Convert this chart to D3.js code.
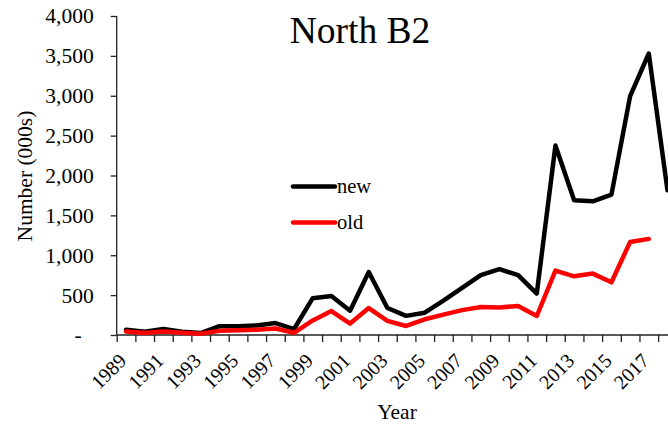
<!DOCTYPE html>
<html>
<head>
<meta charset="utf-8">
<script src="https://cdn.jsdelivr.net/npm/d3@7"></script>
<style>
  body { margin: 0; background: #fff; }
  svg { display: block; font-family: "Liberation Serif", "Times New Roman", serif; }
  .axis path, .axis line { stroke: #222; stroke-width: 1.3; }
  .axis text { font-size: 21.5px; fill: #000; font-family: "Liberation Serif", serif; }
  .line { fill: none; stroke-width: 4.5; stroke-linejoin: round; stroke-linecap: round; }
</style>
</head>
<body>
<svg width="668" height="425"></svg>
<script>
const years = d3.range(1989, 2019);
const newValues = [65, 40, 75, 40, 25, 110, 110, 120, 150, 75,
                   462, 490, 305, 790, 338, 240, 280, 432, 592, 752,
                   825, 750, 520, 2375, 1690, 1676, 1760, 2995, 3530, 1815];
const oldValues = [45, 25, 45, 28, 15, 52, 60, 65, 82, 28,
                   182, 300, 143, 338, 178, 113, 197, 256, 312, 352,
                   345, 364, 238, 808, 736, 770, 661, 1166, 1205, null];
const yTicks = d3.range(0, 4001, 500);
const labelYears = d3.range(1989, 2019, 2);

const svg = d3.select("svg"),
    plotLeft = 116.7, plotBottom = 335, plotTop = 16, step = 18.67;

// band edges: one unit per year, the last year runs past the right edge
const xEdge = d3.scaleLinear().domain([1989, 2019]).range([plotLeft, plotLeft + 30 * step]);
const yScale = d3.scaleLinear().domain([0, 4000]).range([plotBottom, plotTop]);

const line = d3.line()
    .defined(function(d) { return d.v != null; })
    .x(function(d) { return xEdge(d.year + 0.5); })
    .y(function(d) { return yScale(d.v); });

// Title
svg.append("text")
    .attr("x", 360)
    .attr("y", 43)
    .attr("text-anchor", "middle")
    .style("font-size", "37.5px")
    .text("North B2");

// Y axis, zero shown as a dash
const yAxis = svg.append("g")
    .attr("class", "axis")
    .attr("transform", "translate(" + plotLeft + ",0)")
    .call(d3.axisLeft(yScale).tickValues(yTicks).tickSize(6).tickPadding(17)
      .tickFormat(function(d) { return d === 0 ? "-" : d3.format(",")(d); }));
yAxis.select(".domain").attr("d", "M0," + plotTop + "V" + plotBottom);
yAxis.selectAll(".tick").filter(function(d) { return d === 0; })
    .select("text").attr("x", -35);

// X axis ticks between years
const xAxis = svg.append("g")
    .attr("class", "axis")
    .attr("transform", "translate(0," + plotBottom + ")")
    .call(d3.axisBottom(xEdge).tickValues(d3.range(1989, 2020)).tickSize(7).tickFormat(""));
xAxis.select(".domain").attr("d", "M" + plotLeft + ",0H668");

// X labels, every other year, rotated
const xLabels = svg.append("g")
    .attr("class", "axis")
    .attr("transform", "translate(0," + plotBottom + ")")
    .call(d3.axisBottom(xEdge).tickValues(labelYears.map(function(y) { return y + 0.5; }))
      .tickSize(0).tickFormat(function(d) { return d - 0.5; }));
xLabels.select(".domain").remove();
xLabels.selectAll("text")
    .attr("x", 0).attr("y", 0).attr("dy", 0)
    .attr("transform", "translate(1,27) rotate(-45)")
    .style("text-anchor", "end")
    .style("font-size", "20px");

// Axis titles
svg.append("text")
    .attr("transform", "translate(32,176) rotate(-90)")
    .attr("text-anchor", "middle")
    .style("font-size", "21.5px")
    .text("Number (000s)");

svg.append("text")
    .attr("x", 397)
    .attr("y", 419)
    .attr("text-anchor", "middle")
    .style("font-size", "21.5px")
    .text("Year");

// Lines: new drawn first, old on top
const series = [
  {id: "new", colour: "#000000", values: newValues},
  {id: "old", colour: "#ff0000", values: oldValues}
];

svg.selectAll(".line")
    .data(series)
    .enter().append("path")
      .attr("class", "line")
      .style("stroke", function(d) { return d.colour; })
      .attr("d", function(d) {
        return line(years.map(function(y, i) { return {year: y, v: d.values[i]}; }));
      });

// Legend
const legend = svg.selectAll(".legend")
    .data(series)
    .enter().append("g")
      .attr("class", "legend")
      .attr("transform", function(d, i) { return "translate(293," + (186.5 + i * 36) + ")"; });

legend.append("line")
    .attr("x1", 0).attr("x2", 42)
    .style("stroke", function(d) { return d.colour; })
    .style("stroke-width", 4.5)
    .style("stroke-linecap", "round");

legend.append("text")
    .attr("x", 44)
    .attr("y", 6)
    .style("font-size", "20.5px")
    .text(function(d) { return d.id; });
</script>
</body>
</html>
